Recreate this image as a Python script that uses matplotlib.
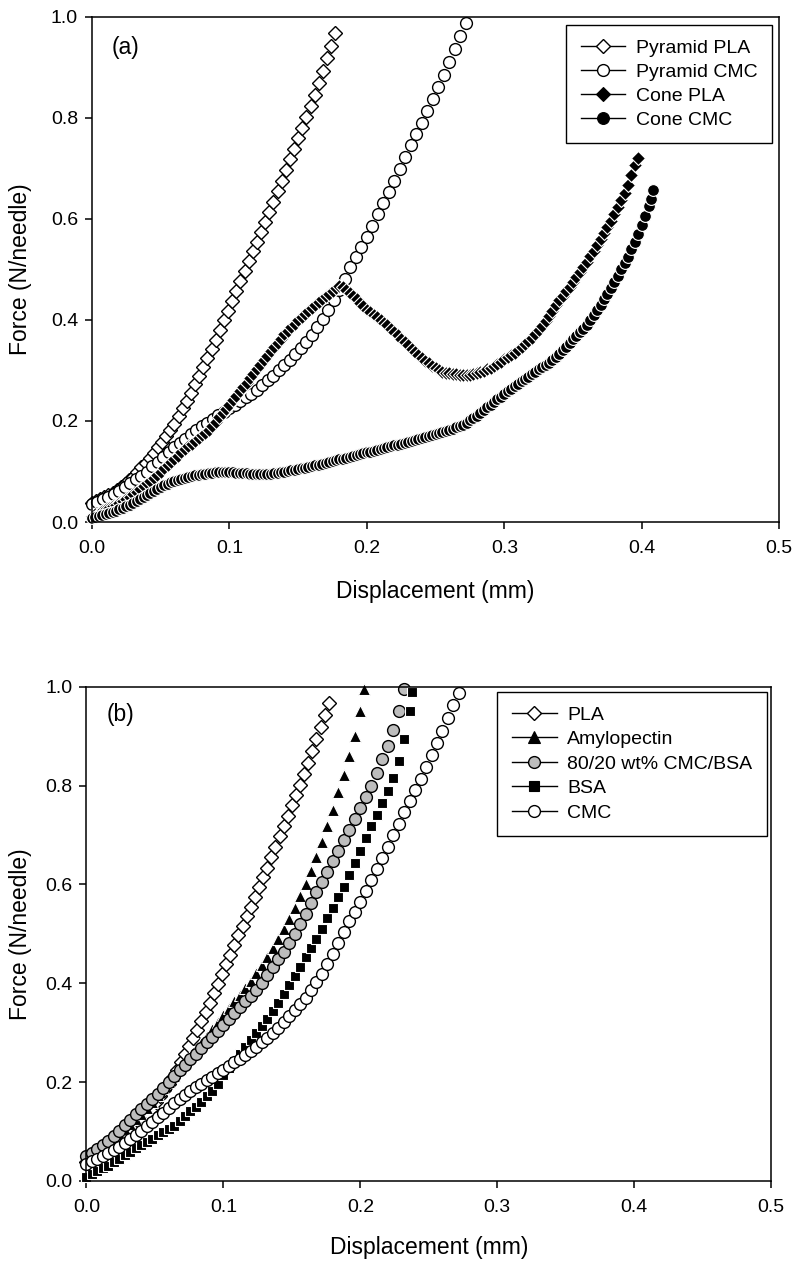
import matplotlib
matplotlib.use('Agg')
import matplotlib.pyplot as plt
from matplotlib.lines import Line2D

plt.rcParams['font.family'] = ['Liberation Sans', 'DejaVu Sans']

# ---- panel (a) data ----
pla_x = [0.000, 0.003, 0.006, 0.009, 0.012, 0.015, 0.018, 0.021, 0.024, 0.027,
         0.030, 0.033, 0.036, 0.039, 0.042, 0.045, 0.048, 0.051, 0.054, 0.057,
         0.060, 0.063, 0.066, 0.069, 0.072, 0.075, 0.078, 0.081, 0.084, 0.087,
         0.090, 0.093, 0.096, 0.099, 0.102, 0.105, 0.108, 0.111, 0.114, 0.117,
         0.120, 0.123, 0.126, 0.129, 0.132, 0.135, 0.138, 0.141, 0.144, 0.147,
         0.150, 0.153, 0.156, 0.159, 0.162, 0.165, 0.168, 0.171, 0.174, 0.177]
pla_y = [0.038, 0.042, 0.045, 0.049, 0.053, 0.058, 0.064, 0.070, 0.076, 0.083,
         0.090, 0.099, 0.108, 0.117, 0.126, 0.137, 0.148, 0.159, 0.171, 0.183,
         0.195, 0.210, 0.225, 0.240, 0.256, 0.273, 0.289, 0.306, 0.324, 0.342,
         0.360, 0.380, 0.399, 0.418, 0.438, 0.458, 0.477, 0.497, 0.516, 0.536,
         0.555, 0.575, 0.594, 0.614, 0.634, 0.655, 0.676, 0.697, 0.718, 0.739,
         0.760, 0.781, 0.802, 0.823, 0.846, 0.870, 0.894, 0.918, 0.943, 0.968]

cmc_x = [0.000, 0.004, 0.008, 0.012, 0.016, 0.020, 0.024, 0.028, 0.032, 0.036,
         0.040, 0.044, 0.048, 0.052, 0.056, 0.060, 0.064, 0.068, 0.072, 0.076,
         0.080, 0.084, 0.088, 0.092, 0.096, 0.100, 0.104, 0.108, 0.112, 0.116,
         0.120, 0.124, 0.128, 0.132, 0.136, 0.140, 0.144, 0.148, 0.152, 0.156,
         0.160, 0.164, 0.168, 0.172, 0.176, 0.180, 0.184, 0.188, 0.192, 0.196,
         0.200, 0.204, 0.208, 0.212, 0.216, 0.220, 0.224, 0.228, 0.232, 0.236,
         0.240, 0.244, 0.248, 0.252, 0.256, 0.260, 0.264, 0.268, 0.272]
cmc_y = [0.035, 0.040, 0.045, 0.050, 0.056, 0.062, 0.069, 0.077, 0.085, 0.092,
         0.100, 0.110, 0.119, 0.129, 0.138, 0.148, 0.157, 0.165, 0.174, 0.182,
         0.190, 0.197, 0.204, 0.211, 0.218, 0.225, 0.232, 0.240, 0.247, 0.254,
         0.262, 0.271, 0.281, 0.290, 0.300, 0.310, 0.321, 0.333, 0.345, 0.357,
         0.370, 0.386, 0.402, 0.419, 0.439, 0.460, 0.482, 0.504, 0.525, 0.545,
         0.565, 0.587, 0.609, 0.631, 0.653, 0.675, 0.699, 0.723, 0.747, 0.768,
         0.790, 0.814, 0.838, 0.862, 0.886, 0.910, 0.936, 0.962, 0.988]

cone_pla_x = [0.0000, 0.0025, 0.0050, 0.0075, 0.0100, 0.0125, 0.0150, 0.0175, 0.0200, 0.0225,
              0.0250, 0.0275, 0.0300, 0.0325, 0.0350, 0.0375, 0.0400, 0.0425, 0.0450, 0.0475,
              0.0500, 0.0525, 0.0550, 0.0575, 0.0600, 0.0625, 0.0650, 0.0675, 0.0700, 0.0725,
              0.0750, 0.0775, 0.0800, 0.0825, 0.0850, 0.0875, 0.0900, 0.0925, 0.0950, 0.0975,
              0.1000, 0.1025, 0.1050, 0.1075, 0.1100, 0.1125, 0.1150, 0.1175, 0.1200, 0.1225,
              0.1250, 0.1275, 0.1300, 0.1325, 0.1350, 0.1375, 0.1400, 0.1425, 0.1450, 0.1475,
              0.1500, 0.1525, 0.1550, 0.1575, 0.1600, 0.1625, 0.1650, 0.1675, 0.1700, 0.1725,
              0.1750, 0.1775, 0.1800, 0.1825, 0.1850, 0.1875, 0.1900, 0.1925, 0.1950, 0.1975,
              0.2000, 0.2025, 0.2050, 0.2075, 0.2100, 0.2125, 0.2150, 0.2175, 0.2200, 0.2225,
              0.2250, 0.2275, 0.2300, 0.2325, 0.2350, 0.2375, 0.2400, 0.2425, 0.2450, 0.2475,
              0.2500, 0.2525, 0.2550, 0.2575, 0.2600, 0.2625, 0.2650, 0.2675, 0.2700, 0.2725,
              0.2750, 0.2775, 0.2800, 0.2825, 0.2850, 0.2875, 0.2900, 0.2925, 0.2950, 0.2975,
              0.3000, 0.3025, 0.3050, 0.3075, 0.3100, 0.3125, 0.3150, 0.3175, 0.3200, 0.3225,
              0.3250, 0.3275, 0.3300, 0.3325, 0.3350, 0.3375, 0.3400, 0.3425, 0.3450, 0.3475,
              0.3500, 0.3525, 0.3550, 0.3575, 0.3600, 0.3625, 0.3650, 0.3675, 0.3700, 0.3725,
              0.3750, 0.3775, 0.3800, 0.3825, 0.3850, 0.3875, 0.3900, 0.3925, 0.3950, 0.3970]
cone_pla_y = [0.012, 0.015, 0.018, 0.021, 0.025, 0.028, 0.031, 0.034, 0.037, 0.041,
              0.046, 0.050, 0.055, 0.060, 0.066, 0.071, 0.077, 0.082, 0.088, 0.094,
              0.100, 0.106, 0.112, 0.118, 0.125, 0.131, 0.138, 0.144, 0.150, 0.155,
              0.161, 0.166, 0.172, 0.177, 0.183, 0.191, 0.199, 0.207, 0.215, 0.223,
              0.232, 0.241, 0.250, 0.259, 0.268, 0.276, 0.285, 0.294, 0.303, 0.311,
              0.320, 0.329, 0.338, 0.346, 0.355, 0.363, 0.372, 0.379, 0.386, 0.393,
              0.400, 0.406, 0.412, 0.418, 0.424, 0.430, 0.436, 0.441, 0.447, 0.452,
              0.458, 0.463, 0.468, 0.465, 0.460, 0.454, 0.448, 0.441, 0.434, 0.427,
              0.420, 0.415, 0.410, 0.405, 0.400, 0.395, 0.390, 0.383, 0.377, 0.370,
              0.363, 0.356, 0.350, 0.343, 0.337, 0.331, 0.325, 0.319, 0.314, 0.309,
              0.304, 0.301, 0.298, 0.296, 0.295, 0.294, 0.293, 0.292, 0.291, 0.291,
              0.292, 0.293, 0.295, 0.297, 0.299, 0.302, 0.305, 0.308, 0.312, 0.317,
              0.322, 0.326, 0.331, 0.335, 0.340, 0.346, 0.352, 0.358, 0.365, 0.372,
              0.380, 0.389, 0.398, 0.408, 0.418, 0.429, 0.440, 0.448, 0.457, 0.466,
              0.475, 0.485, 0.495, 0.505, 0.515, 0.526, 0.537, 0.548, 0.560, 0.572,
              0.585, 0.597, 0.610, 0.623, 0.637, 0.651, 0.667, 0.688, 0.707, 0.720]

cone_cmc_x = [0.0000, 0.0025, 0.0050, 0.0075, 0.0100, 0.0125, 0.0150, 0.0175, 0.0200, 0.0225,
              0.0250, 0.0275, 0.0300, 0.0325, 0.0350, 0.0375, 0.0400, 0.0425, 0.0450, 0.0475,
              0.0500, 0.0525, 0.0550, 0.0575, 0.0600, 0.0625, 0.0650, 0.0675, 0.0700, 0.0725,
              0.0750, 0.0775, 0.0800, 0.0825, 0.0850, 0.0875, 0.0900, 0.0925, 0.0950, 0.0975,
              0.1000, 0.1025, 0.1050, 0.1075, 0.1100, 0.1125, 0.1150, 0.1175, 0.1200, 0.1225,
              0.1250, 0.1275, 0.1300, 0.1325, 0.1350, 0.1375, 0.1400, 0.1425, 0.1450, 0.1475,
              0.1500, 0.1525, 0.1550, 0.1575, 0.1600, 0.1625, 0.1650, 0.1675, 0.1700, 0.1725,
              0.1750, 0.1775, 0.1800, 0.1825, 0.1850, 0.1875, 0.1900, 0.1925, 0.1950, 0.1975,
              0.2000, 0.2025, 0.2050, 0.2075, 0.2100, 0.2125, 0.2150, 0.2175, 0.2200, 0.2225,
              0.2250, 0.2275, 0.2300, 0.2325, 0.2350, 0.2375, 0.2400, 0.2425, 0.2450, 0.2475,
              0.2500, 0.2525, 0.2550, 0.2575, 0.2600, 0.2625, 0.2650, 0.2675, 0.2700, 0.2725,
              0.2750, 0.2775, 0.2800, 0.2825, 0.2850, 0.2875, 0.2900, 0.2925, 0.2950, 0.2975,
              0.3000, 0.3025, 0.3050, 0.3075, 0.3100, 0.3125, 0.3150, 0.3175, 0.3200, 0.3225,
              0.3250, 0.3275, 0.3300, 0.3325, 0.3350, 0.3375, 0.3400, 0.3425, 0.3450, 0.3475,
              0.3500, 0.3525, 0.3550, 0.3575, 0.3600, 0.3625, 0.3650, 0.3675, 0.3700, 0.3725,
              0.3750, 0.3775, 0.3800, 0.3825, 0.3850, 0.3875, 0.3900, 0.3925, 0.3950, 0.3975,
              0.4000, 0.4025, 0.4050, 0.4065, 0.4080]
cone_cmc_y = [0.008, 0.009, 0.011, 0.013, 0.015, 0.017, 0.020, 0.022, 0.025, 0.028,
              0.031, 0.034, 0.038, 0.041, 0.045, 0.049, 0.053, 0.057, 0.062, 0.066,
              0.070, 0.073, 0.076, 0.079, 0.082, 0.084, 0.086, 0.088, 0.090, 0.091,
              0.093, 0.094, 0.095, 0.096, 0.097, 0.098, 0.099, 0.099, 0.100, 0.100,
              0.099, 0.099, 0.098, 0.098, 0.097, 0.097, 0.096, 0.096, 0.095, 0.095,
              0.095, 0.095, 0.096, 0.097, 0.098, 0.099, 0.100, 0.101, 0.102, 0.103,
              0.105, 0.106, 0.107, 0.109, 0.110, 0.112, 0.113, 0.115, 0.117, 0.118,
              0.120, 0.122, 0.124, 0.125, 0.127, 0.129, 0.131, 0.132, 0.134, 0.136,
              0.138, 0.139, 0.141, 0.143, 0.145, 0.146, 0.148, 0.150, 0.152, 0.153,
              0.155, 0.157, 0.159, 0.160, 0.162, 0.164, 0.166, 0.168, 0.170, 0.172,
              0.174, 0.176, 0.178, 0.180, 0.183, 0.185, 0.188, 0.190, 0.193, 0.197,
              0.201, 0.205, 0.210, 0.216, 0.222, 0.227, 0.232, 0.237, 0.243, 0.248,
              0.254, 0.259, 0.264, 0.269, 0.274, 0.279, 0.284, 0.288, 0.293, 0.297,
              0.302, 0.306, 0.311, 0.315, 0.320, 0.326, 0.333, 0.340, 0.347, 0.354,
              0.362, 0.369, 0.376, 0.383, 0.391, 0.400, 0.410, 0.420, 0.430, 0.441,
              0.452, 0.463, 0.475, 0.487, 0.500, 0.512, 0.525, 0.540, 0.555, 0.571,
              0.588, 0.606, 0.625, 0.640, 0.658]

# ---- panel (b) data (PLA and CMC are the same runs as in (a)) ----
amy_x = [0.000, 0.004, 0.008, 0.012, 0.016, 0.020, 0.024, 0.028, 0.032, 0.036,
         0.040, 0.044, 0.048, 0.052, 0.056, 0.060, 0.064, 0.068, 0.072, 0.076,
         0.080, 0.084, 0.088, 0.092, 0.096, 0.100, 0.104, 0.108, 0.112, 0.116,
         0.120, 0.124, 0.128, 0.132, 0.136, 0.140, 0.144, 0.148, 0.152, 0.156,
         0.160, 0.164, 0.168, 0.172, 0.176, 0.180, 0.184, 0.188, 0.192, 0.196,
         0.200, 0.203]
amy_y = [0.040, 0.048, 0.056, 0.065, 0.075, 0.085, 0.095, 0.105, 0.115, 0.125,
         0.135, 0.148, 0.160, 0.174, 0.187, 0.200, 0.213, 0.226, 0.239, 0.252,
         0.265, 0.279, 0.293, 0.307, 0.321, 0.335, 0.349, 0.363, 0.377, 0.391,
         0.405, 0.421, 0.437, 0.454, 0.472, 0.490, 0.510, 0.530, 0.552, 0.576,
         0.600, 0.628, 0.656, 0.686, 0.718, 0.750, 0.786, 0.822, 0.860, 0.900,
         0.950, 0.995]

mix_x = [0.000, 0.004, 0.008, 0.012, 0.016, 0.020, 0.024, 0.028, 0.032, 0.036,
         0.040, 0.044, 0.048, 0.052, 0.056, 0.060, 0.064, 0.068, 0.072, 0.076,
         0.080, 0.084, 0.088, 0.092, 0.096, 0.100, 0.104, 0.108, 0.112, 0.116,
         0.120, 0.124, 0.128, 0.132, 0.136, 0.140, 0.144, 0.148, 0.152, 0.156,
         0.160, 0.164, 0.168, 0.172, 0.176, 0.180, 0.184, 0.188, 0.192, 0.196,
         0.200, 0.204, 0.208, 0.212, 0.216, 0.220, 0.224, 0.228, 0.232]
mix_y = [0.050, 0.057, 0.064, 0.072, 0.081, 0.090, 0.101, 0.113, 0.124, 0.135,
         0.145, 0.155, 0.165, 0.176, 0.188, 0.200, 0.212, 0.224, 0.235, 0.246,
         0.257, 0.268, 0.280, 0.291, 0.303, 0.315, 0.327, 0.339, 0.351, 0.363,
         0.375, 0.387, 0.400, 0.416, 0.432, 0.448, 0.464, 0.481, 0.500, 0.520,
         0.541, 0.562, 0.584, 0.605, 0.626, 0.647, 0.668, 0.689, 0.711, 0.733,
         0.755, 0.777, 0.800, 0.826, 0.853, 0.880, 0.912, 0.950, 0.995]

bsa_x = [0.000, 0.004, 0.008, 0.012, 0.016, 0.020, 0.024, 0.028, 0.032, 0.036,
         0.040, 0.044, 0.048, 0.052, 0.056, 0.060, 0.064, 0.068, 0.072, 0.076,
         0.080, 0.084, 0.088, 0.092, 0.096, 0.100, 0.104, 0.108, 0.112, 0.116,
         0.120, 0.124, 0.128, 0.132, 0.136, 0.140, 0.144, 0.148, 0.152, 0.156,
         0.160, 0.164, 0.168, 0.172, 0.176, 0.180, 0.184, 0.188, 0.192, 0.196,
         0.200, 0.204, 0.208, 0.212, 0.216, 0.220, 0.224, 0.228, 0.232, 0.236,
         0.238]
bsa_y = [0.008, 0.013, 0.019, 0.025, 0.031, 0.038, 0.045, 0.052, 0.059, 0.066,
         0.072, 0.079, 0.085, 0.092, 0.098, 0.105, 0.112, 0.122, 0.131, 0.141,
         0.150, 0.160, 0.171, 0.181, 0.197, 0.215, 0.229, 0.243, 0.257, 0.271,
         0.285, 0.299, 0.313, 0.328, 0.344, 0.360, 0.378, 0.396, 0.414, 0.433,
         0.452, 0.471, 0.490, 0.510, 0.531, 0.552, 0.574, 0.595, 0.619, 0.643,
         0.668, 0.694, 0.718, 0.741, 0.765, 0.788, 0.815, 0.850, 0.895, 0.950,
         0.990]

x_ticks = [0.0, 0.1, 0.2, 0.3, 0.4, 0.5]
y_ticks = [0.0, 0.2, 0.4, 0.6, 0.8, 1.0]

fig = plt.figure(figsize=(8, 12.67), dpi=100)
ax1 = fig.add_axes([0.115, 0.588, 0.859, 0.3986])
ax2 = fig.add_axes([0.108, 0.068, 0.856, 0.390])

open_m = dict(mfc='white', mec='black', mew=1.0)
fill_m = dict(mfc='black', mec='white', mew=0.8)
grey_m = dict(mfc='#bdbdbd', mec='black', mew=1.0)


def series(ax, x, y, marker, ms, style):
    ax.plot(x, y, ls='none', marker=marker, ms=ms, clip_on=False, **style)


def handle(marker, ms, style):
    st = dict(style)
    st['mec'] = 'black'
    return Line2D([0], [0], color='black', lw=1.0, marker=marker, ms=ms, **st)


def style_axes(ax):
    ax.set_xlim(0, 0.5)
    ax.set_ylim(0, 1.0)
    ax.set_xticks(x_ticks)
    ax.set_yticks(y_ticks)
    ax.set_xticklabels(['%.1f' % t for t in x_ticks])
    ax.set_yticklabels(['%.1f' % t for t in y_ticks])
    ax.tick_params(direction='out', length=5, width=1.1, labelsize=14,
                   top=False, right=False)
    ax.tick_params(axis='x', pad=8)
    ax.tick_params(axis='y', pad=5)
    for sp in ax.spines.values():
        sp.set_linewidth(1.1)
    ax.set_xlabel('Displacement (mm)', fontsize=16.5)
    ax.set_ylabel('Force (N/needle)', fontsize=16.5)


# panel (a)
series(ax1, pla_x, pla_y, 'D', 7.5, open_m)
series(ax1, cmc_x, cmc_y, 'o', 8.5, open_m)
series(ax1, cone_pla_x, cone_pla_y, 'D', 7.5, fill_m)
series(ax1, cone_cmc_x, cone_cmc_y, 'o', 8.5, fill_m)
style_axes(ax1)
ax1.xaxis.set_label_coords(0.5, -0.115)
ax1.yaxis.set_label_coords(-0.087, 0.5)
ax1.text(0.029, 0.939, '(a)', transform=ax1.transAxes, fontsize=16.5,
         ha='left', va='center')
h1 = [handle('D', 7.5, open_m), handle('o', 8.5, open_m),
      handle('D', 7.5, fill_m), handle('o', 8.5, fill_m)]
leg1 = ax1.legend(h1, ['Pyramid PLA', 'Pyramid CMC', 'Cone PLA', 'Cone CMC'],
                  loc='upper right', bbox_to_anchor=(0.99, 0.984), borderaxespad=0,
                  fontsize=14, handlelength=2.3, handletextpad=0.55,
                  labelspacing=0.32, borderpad=0.75, fancybox=False,
                  edgecolor='black', framealpha=1)
leg1.get_frame().set_linewidth(1.0)

# panel (b)
series(ax2, pla_x, pla_y, 'D', 7.5, open_m)
series(ax2, amy_x, amy_y, '^', 8.5, fill_m)
series(ax2, mix_x, mix_y, 'o', 8.5, grey_m)
series(ax2, bsa_x, bsa_y, 's', 6.5, fill_m)
series(ax2, cmc_x, cmc_y, 'o', 8.5, open_m)
style_axes(ax2)
ax2.xaxis.set_label_coords(0.5, -0.111)
ax2.yaxis.set_label_coords(-0.080, 0.5)
ax2.text(0.030, 0.943, '(b)', transform=ax2.transAxes, fontsize=16.5,
         ha='left', va='center')
h2 = [handle('D', 7.5, open_m), handle('^', 8.5, fill_m),
      handle('o', 8.5, grey_m), handle('s', 6.5, fill_m), handle('o', 8.5, open_m)]
leg2 = ax2.legend(h2, ['PLA', 'Amylopectin', '80/20 wt% CMC/BSA', 'BSA', 'CMC'],
                  loc='upper right', bbox_to_anchor=(0.994, 0.99), borderaxespad=0,
                  fontsize=14, handlelength=2.3, handletextpad=0.55,
                  labelspacing=0.35, borderpad=0.75, fancybox=False,
                  edgecolor='black', framealpha=1)
leg2.get_frame().set_linewidth(1.0)

fig.savefig('out.png', dpi=100)
